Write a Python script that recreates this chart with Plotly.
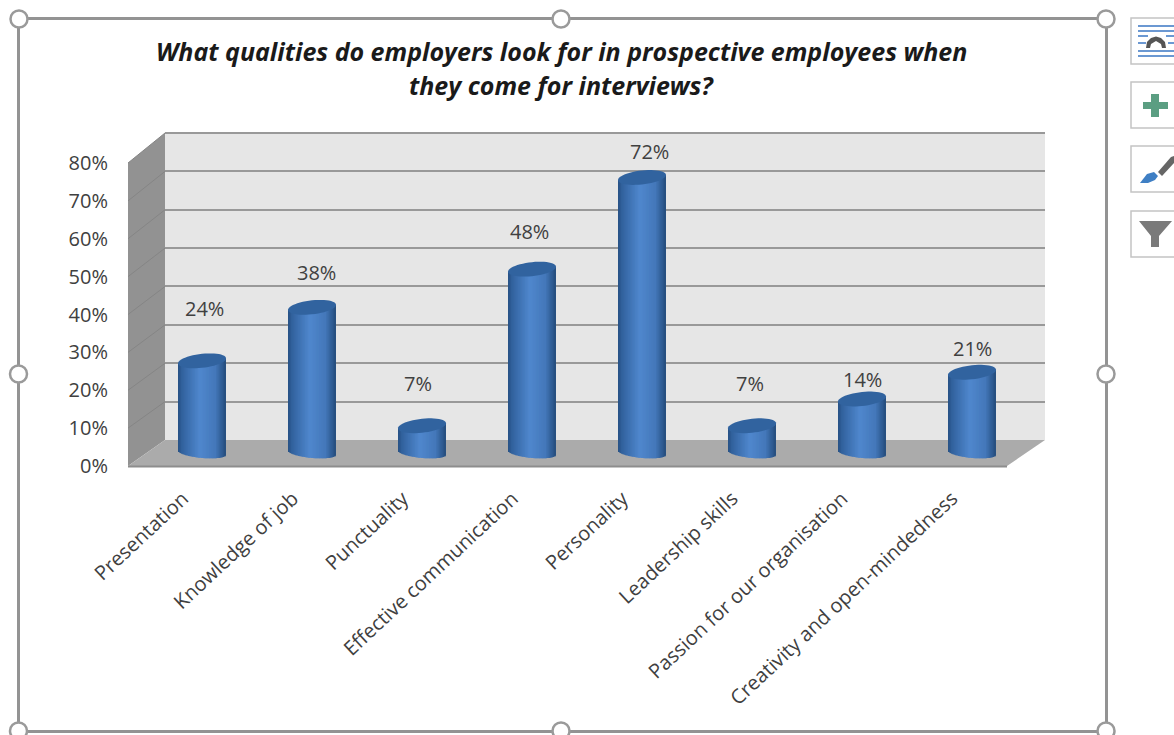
import math
import plotly.graph_objects as go

W, H = 1174, 735

# Survey results
categories = ["Presentation", "Knowledge of job", "Punctuality", "Effective communication",
              "Personality", "Leadership skills", "Passion for our organisation",
              "Creativity and open-mindedness"]
values = [24, 38, 7, 48, 72, 7, 14, 21]
axis_ticks = [0, 10, 20, 30, 40, 50, 60, 70, 80]
axis_labels = ["0%", "10%", "20%", "30%", "40%", "50%", "60%", "70%", "80%"]
title_lines = ["What qualities do employers look for in prospective employees when",
               "they come for interviews?"]

# Hand-placed data label nudges, in pixels
label_dx = [3, 4, -4, -3, 7, -2, 0, 0]
label_dy = [52, 35, 42, 38, 26, 42, 20, 24]

FONT = "Open Sans"
TEXT = "#404040"
GRID = "#999999"


def X(p):
    return p / W


def Y(p):
    return 1 - p / H


def poly(points):
    return "M" + " L".join(f"{X(a):.5f},{Y(b):.5f}" for a, b in points) + " Z"


def paper_path(points, fill, line=None, lw=0, layer="below"):
    return dict(type="path", xref="paper", yref="paper", path=poly(points), fillcolor=fill,
                line=dict(color=line or fill, width=lw), layer=layer)


def paper_line(x0, y0, x1, y1, color, lw, layer="below"):
    return dict(type="line", xref="paper", yref="paper", x0=X(x0), y0=Y(y0), x1=X(x1), y1=Y(y1),
                line=dict(color=color, width=lw), layer=layer)


# Depth geometry of the box: front plane, back wall and the plane holding the cylinders
FRONT_L, FRONT_R, FRONT_0, FRONT_80 = 128, 1007, 466, 163
BACK_L, BACK_R, BACK_0, BACK_80 = 165, 1045, 440, 133
MID_L, MID_R, MID_0, MID_SCALE = 147, 1027, 452.5, 3.82
Y_LO, Y_HI = -4, 84
BACK_SCALE = (BACK_0 - BACK_80) / 80

shapes = []
# Walls and floor
shapes.append(paper_path([(BACK_L, BACK_80), (BACK_R, BACK_80), (BACK_R, BACK_0), (BACK_L, BACK_0)], "#e6e6e6"))
shapes.append(paper_path([(FRONT_L, FRONT_80), (BACK_L, BACK_80), (BACK_L, BACK_0), (FRONT_L, FRONT_0)], "#929292"))
shapes.append(paper_path([(FRONT_L, FRONT_0), (BACK_L, BACK_0), (BACK_R, BACK_0), (FRONT_R, FRONT_0)], "#ababab"))
shapes.append(paper_line(FRONT_L, FRONT_0 + 0.5, FRONT_R, FRONT_0 + 0.5, "#8d8d8d", 2))
for t in axis_ticks[1:]:
    fy = FRONT_0 + (FRONT_80 - FRONT_0) * t / 80
    by = BACK_0 + (BACK_80 - BACK_0) * t / 80
    shapes.append(paper_line(FRONT_L, fy, BACK_L, by, "#858585", 1))

# Cylinders: vertical colour strips give the shading, their ends follow the tilted ellipses
HALF = 24 / 110
RY = 7 / MID_SCALE
RY_BASE = 5.5 / MID_SCALE
TILT_TOP = 2.5 / MID_SCALE
TILT_BASE = 2.0 / MID_SCALE
N_STRIPS = 34
stops = [(0.0, (38, 80, 130)), (0.08, (50, 98, 158)), (0.45, (80, 136, 206)),
         (0.78, (68, 120, 186)), (0.94, (44, 88, 142)), (1.0, (38, 78, 126))]


def shade(u):
    for (u0, c0), (u1, c1) in zip(stops, stops[1:]):
        if u <= u1:
            k = (u - u0) / (u1 - u0)
            return "rgb(%d,%d,%d)" % tuple(a + (b - a) * k for a, b in zip(c0, c1))
    return "rgb(%d,%d,%d)" % stops[-1][1]


traces = []
# Back wall grid and the front value axis are carried by invisible traces
traces.append(go.Scatter(x=[0, 1], y=[0, 80], mode="none", xaxis="x", yaxis="y",
                         showlegend=False, hoverinfo="skip"))
traces.append(go.Scatter(x=list(range(len(categories))), y=values, mode="none", xaxis="x2", yaxis="y2",
                         showlegend=False, hoverinfo="skip"))

strip_w = 2 * HALF / N_STRIPS
for s in range(N_STRIPS):
    u = (s + 0.5) / N_STRIPS
    t = 2 * u - 1
    bulge = RY_BASE * (1 - t * t) ** 0.5
    base_y = -bulge - TILT_BASE * t
    bases = [base_y for _ in values]
    heights = [v + TILT_TOP * t - base_y for v in values]
    overlap = 1.0 if s == N_STRIPS - 1 else 1.7
    traces.append(go.Bar(x=list(range(len(values))), y=heights, base=bases,
                         width=strip_w * overlap, offset=-HALF + s * strip_w,
                         marker=dict(color=shade(u), line=dict(width=0)),
                         xaxis="x3", yaxis="y3", showlegend=False, hoverinfo="skip"))

# Top caps, computed from each value in data coordinates
for i, v in enumerate(values):
    pts = []
    for k in range(48):
        a = 2 * math.pi * k / 48
        cx, sy = math.cos(a), math.sin(a)
        pts.append(f"{i + HALF * cx:.4f},{v + TILT_TOP * cx + RY * sy:.3f}")
    shapes.append(dict(type="path", xref="x3", yref="y3", path="M" + " L".join(pts) + " Z",
                       fillcolor="#31639f", line=dict(width=0), layer="above"))

# Chart selection frame with resize handles
FRAME = "#939393"
shapes.append(dict(type="rect", xref="paper", yref="paper", x0=X(18.5), y0=Y(18.5), x1=X(1106.5), y1=Y(731.5),
                   line=dict(color=FRAME, width=3), fillcolor="rgba(0,0,0,0)", layer="above"))
for hx, hy in [(19, 19), (561, 19), (1106, 19), (18.5, 374), (1106, 374), (18.5, 731), (561, 731), (1106, 731)]:
    shapes.append(dict(type="circle", xref="paper", yref="paper", x0=X(hx - 8.5), x1=X(hx + 8.5),
                       y0=Y(hy - 8.5), y1=Y(hy + 8.5), fillcolor="white",
                       line=dict(color="#9a9a9a", width=2.5), layer="above"))

# Side buttons
for top, bottom in [(18, 64), (82, 128), (146, 192), (211, 257)]:
    shapes.append(dict(type="rect", xref="paper", yref="paper", x0=X(1131), x1=X(1180), y0=Y(top), y1=Y(bottom),
                       fillcolor="white", line=dict(color="#c4c4c4", width=1.5), layer="above"))
# layout-options glyph
for ly, x0, x1 in [(26, 1138, 1174), (31, 1138, 1174), (36, 1138, 1148), (36, 1166, 1174), (43, 1138, 1146),
                   (43, 1168, 1174), (51, 1138, 1174), (56, 1138, 1174)]:
    shapes.append(paper_line(x0, ly, x1, ly, "#6b98d2", 2, "above"))
shapes.append(dict(type="path", xref="paper", yref="paper",
                   path=poly([(1146, 48), (1147, 42), (1151, 38), (1156, 36.5), (1161, 38), (1165, 42), (1166, 48),
                               (1162, 48), (1161, 44), (1156, 41), (1151, 44), (1150, 48)]),
                   fillcolor="#555555", line=dict(width=0), layer="above"))
# plus glyph
shapes.append(paper_path([(1151, 94), (1159, 94), (1159, 102), (1168, 102), (1168, 109), (1159, 109),
                          (1159, 117), (1151, 117), (1151, 109), (1143, 109), (1143, 102), (1151, 102)],
                         "#5b9e82", layer="above"))
# brush glyph
shapes.append(paper_path([(1140, 183), (1147, 174), (1154, 172), (1158, 176), (1155, 180), (1148, 183)],
                         "#3f7fc4", layer="above"))
shapes.append(paper_path([(1158, 172), (1171, 157), (1174, 156), (1174, 163), (1162, 176)], "#666666", layer="above"))
# funnel glyph
shapes.append(paper_path([(1139, 221), (1172, 221), (1159, 236), (1159, 247), (1151, 247), (1151, 236)],
                         "#7a7a7a", layer="above"))

annotations = []
for line, cy in zip(title_lines, [51, 85]):
    annotations.append(dict(xref="paper", yref="paper", x=X(561.5), y=Y(cy), text=f"<b><i>{line}</i></b>",
                            showarrow=False, xanchor="center", yanchor="middle",
                            font=dict(family=FONT, size=25, color="#1a1a1a")))
for i, v in enumerate(values):
    annotations.append(dict(xref="x3", yref="y3", x=i, y=v, text=f"{v}%", showarrow=False,
                            xshift=label_dx[i], yshift=label_dy[i], xanchor="center", yanchor="middle",
                            font=dict(family=FONT, size=20, color=TEXT)))

fig = go.Figure(traces)
fig.update_layout(
    width=W, height=H, autosize=False, margin=dict(l=0, r=0, t=0, b=0, pad=0, autoexpand=False),
    paper_bgcolor="white", plot_bgcolor="rgba(0,0,0,0)", barmode="overlay",
    showlegend=False, shapes=shapes, annotations=annotations,
    # back wall with its gridlines
    xaxis=dict(domain=[X(BACK_L), X(BACK_R)], range=[0, 1], visible=False, anchor="y"),
    yaxis=dict(domain=[Y(BACK_0 + 3 * BACK_SCALE), Y(BACK_0 - 83 * BACK_SCALE)], range=[-3, 83], anchor="x",
               tickvals=axis_ticks[1:], showticklabels=False, ticks="", showline=False, zeroline=False,
               showgrid=True, gridcolor=GRID, gridwidth=2),
    # front axes carrying the labels
    xaxis2=dict(domain=[X(FRONT_L), X(FRONT_R)], range=[-0.5, 7.5], anchor="y2", tickmode="array",
                tickvals=list(range(len(categories))), ticktext=categories, tickangle=-43,
                ticks="", showline=False, showgrid=False, zeroline=False,
                ticklabelstandoff=16, tickfont=dict(family=FONT, size=20, color=TEXT)),
    yaxis2=dict(domain=[Y(FRONT_0), Y(FRONT_80)], range=[0, 80], anchor="x2", tickmode="array",
                tickvals=axis_ticks, ticktext=axis_labels, ticks="", showline=False, showgrid=False,
                zeroline=False, ticklabelstandoff=19, tickfont=dict(family=FONT, size=20, color=TEXT)),
    # plane of the cylinders
    xaxis3=dict(domain=[X(MID_L), X(MID_R)], range=[-0.5, 7.5], anchor="y3", visible=False),
    yaxis3=dict(domain=[Y(MID_0 - Y_LO * MID_SCALE), Y(MID_0 - Y_HI * MID_SCALE)], range=[Y_LO, Y_HI],
                anchor="x3", visible=False),
)
fig.write_html("out.html", config=dict(displayModeBar=False))
